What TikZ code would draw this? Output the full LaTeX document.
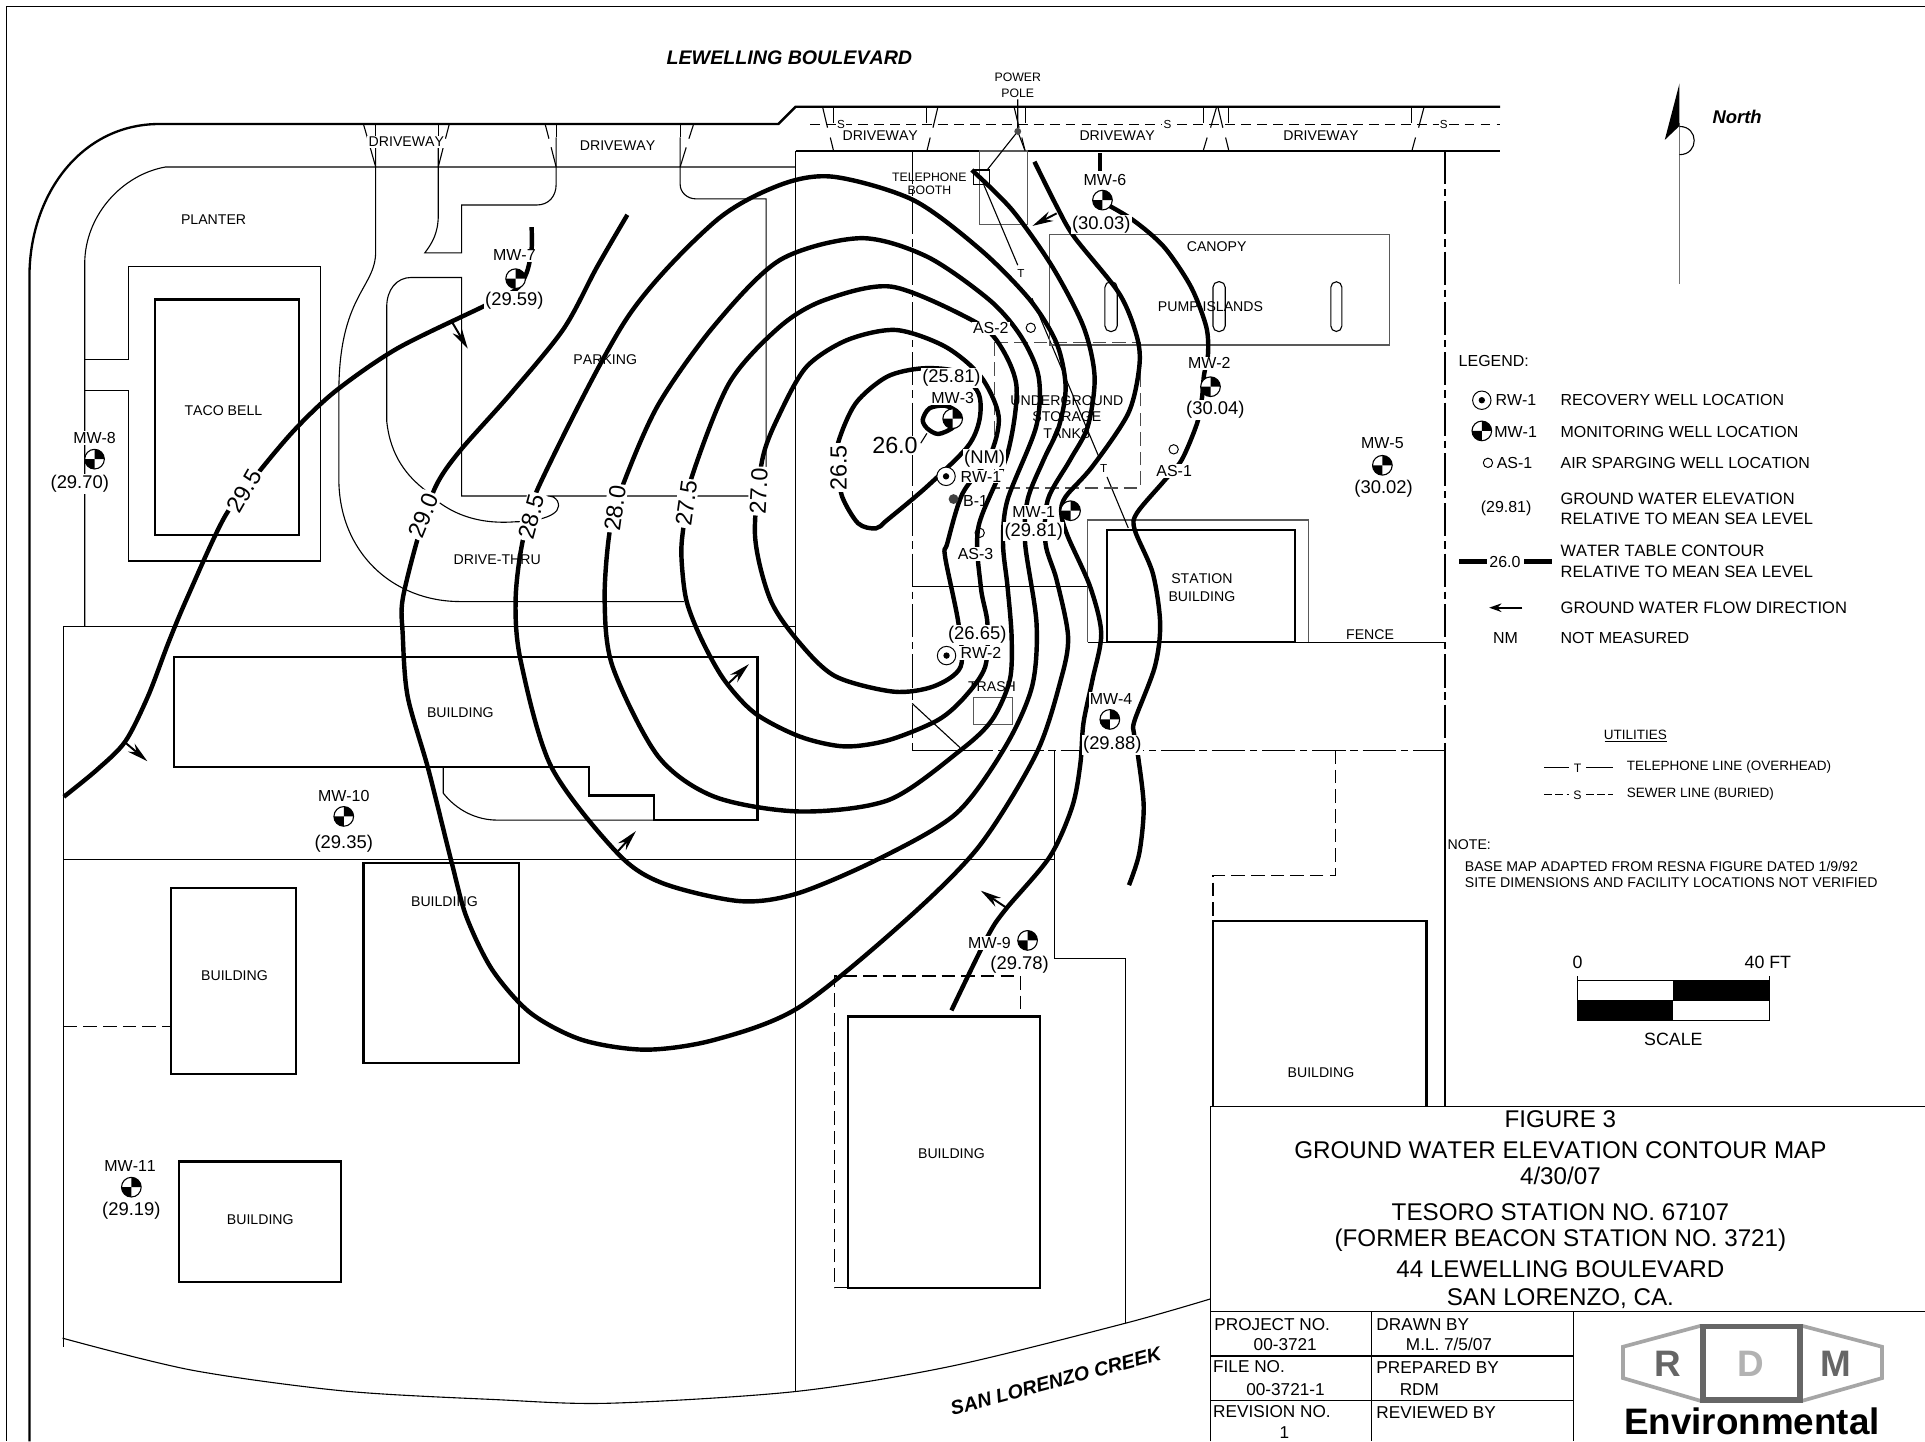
\documentclass[tikz,border=0pt]{standalone}
\usepackage{fontspec}
\setmainfont[Kerning = Off]{Liberation Sans}
\usetikzlibrary{arrows.meta}
\tikzset{
	thinline/.style = {black, line width = 0.9pt},
	greyline/.style = {black!65, line width = 1pt},
	bldg/.style = {black, line width = 1.8pt},
	contour/.style = {black, line width = 3.6pt},
	fenceline/.style = {black, line width = 0.9pt, dash pattern = on 27pt off 4pt on 6pt off 4pt},
	dashline/.style = {black, line width = 0.9pt, dash pattern = on 11pt off 5pt},
	flow/.style = {black, line width = 1.6pt, -{Stealth[length = 17pt, width = 8.5pt]}},
	plainlbl/.style = {inner sep = 0pt, align = center, yshift = -0.7pt, font = \fontsize{11.5}{13.5}\selectfont},
	welllbl/.style = {inner sep = 1pt, fill = white, font = \fontsize{13}{15}\selectfont},
	elevlbl/.style = {inner sep = 1pt, fill = white, yshift = -1pt, font = \fontsize{15}{17}\selectfont},
	contlbl/.style = {inner sep = 1.5pt, fill = white, font = \fontsize{19}{21}\selectfont},
	keylbl/.style = {inner sep = 0pt, anchor = west, align = left, font = \fontsize{13}{17}\selectfont},
	widekey/.style = {keylbl, font = \fontsize{13.4}{17}\selectfont},
	titlelbl/.style = {inner sep = 0pt, font = \fontsize{19.7}{22}\selectfont},
	cornerlbl/.style = {inner sep = 0pt, anchor = west, font = \fontsize{14}{16}\selectfont},
	mwell/.pic = {
		\fill[white] (0pt, 0pt) circle (8pt);
		\fill[black] (0pt, 0pt)--(8pt, 0pt) arc[start angle = 0, end angle = 90, radius = 8pt]--cycle;
		\fill[black] (0pt, 0pt)--(-8pt, 0pt) arc[start angle = 180, end angle = 270, radius = 8pt]--cycle;
		\draw[black, line width = 0.9pt] (0pt, 0pt) circle (8pt);
	},
	rwell/.pic = {
		\fill[white] (0pt, 0pt) circle (7.5pt);
		\draw[black, line width = 0.8pt] (0pt, 0pt) circle (7.5pt);
		\fill[black] (0pt, 0pt) circle (2.6pt);
	},
	aswell/.pic = {
		\draw[black, line width = 0.8pt] (0pt, 0pt) circle (3.8pt);
	}
}

\begin{document}
\begin{tikzpicture}[x = 1pt, y = -1pt]
	\useasboundingbox (0, 0) rectangle (1568, 1174);
	% frame and road
	\draw[thinline] (1568, 5)--(5, 5)--(5, 1174);
	\draw[black, line width = 1.9pt] (24, 1174)--(24, 225) .. controls (24, 160) and (65, 101) .. (130, 101)--(634, 101)--(648, 87)--(1222, 87);
	\draw[black, line width = 0.8pt, dash pattern = on 8pt off 5pt] (660, 101)--(1222, 101);
	\draw[thinline] (648, 123)--(1222, 123);
	\draw[thinline] (69, 510)--(69, 215) .. controls (69, 175) and (100, 142) .. (135, 136)--(648, 136);
	% driveways
	\foreach \xa/\xb in {296/306, 366/357, 444/453, 565/554} {
		\draw[thinline] (\xa, 101)--({\xa + 0.35 * (\xb - \xa)}, 113);
		\draw[thinline] ({\xa + 0.55 * (\xb - \xa)}, 120)--(\xb, 136);
		\draw[thinline] (\xb, 101)--(\xb, 112);
	}
	\foreach \xa/\xb in {670/679, 764/755, 826/835, 991/980, 992/1001, 1160/1150} {
		\draw[thinline] (\xa, 87)--({\xa + 0.45 * (\xb - \xa)}, 104);
		\draw[thinline] ({\xa + 0.7 * (\xb - \xa)}, 112)--(\xb, 123);
		\draw[thinline] (\xb, 87)--(\xb, 100);
	}
	% parking curbs
	\draw[thinline] (306, 112)--(306, 205) .. controls (306, 235) and (276, 240) .. (276, 320)--(276, 390) .. controls (276, 450) and (320, 490) .. (375, 490)--(557, 490);
	\draw[thinline] (357, 112)--(357, 175) .. controls (357, 190) and (352, 198) .. (346, 206)--(376, 206)--(376, 167)--(437, 167) .. controls (447, 167) and (453, 160) .. (453, 150)--(453, 112);
	\draw[thinline] (554, 112)--(554, 150) .. controls (554, 157) and (560, 162) .. (567, 162)--(624, 162)--(624, 404);
	\draw[thinline] (624, 404)--(376, 404)--(376, 226)--(335, 226) .. controls (323, 226) and (315, 236) .. (315, 250)--(315, 343) .. controls (318, 372) and (332, 388) .. (346, 399) .. controls (368, 422) and (395, 427) .. (420, 425) .. controls (437, 425) and (460, 420) .. (454, 408) .. controls (452, 405) and (450, 404) .. (445, 404);
	% taco bell
	\draw[thinline] (69, 293)--(105, 293)--(105, 217)--(261, 217)--(261, 457)--(105, 457)--(105, 318)--(69, 318);
	\draw[bldg] (126, 244) rectangle (243.5, 435.5);
	% blocks to the south
	\draw[thinline] (52, 1097)--(52, 510)--(648, 510);
	\draw[thinline] (52, 700)--(859, 700);
	\draw[thinline] (648, 123)--(648, 1133);
	\draw[thinline] (859, 611)--(859, 781)--(917, 781)--(917, 1078);
	\draw[thinline] plot[smooth] coordinates {(51, 1090) (156, 1116) (280, 1133) (403, 1140) (496, 1143) (647.5, 1133.5) (774, 1113) (916, 1078) (986, 1058)};
	\draw[bldg] (142, 535)--(617, 535)--(617, 668)--(533, 668)--(533, 648)--(480, 648)--(480, 624.5)--(142, 624.5)--cycle;
	\draw[thinline] (361, 625)--(361, 646) .. controls (372, 660) and (388, 668) .. (405, 668)--(533, 668);
	\draw[bldg] (139, 723) rectangle (241, 875);
	\draw[bldg] (296, 703) rectangle (423, 866);
	\draw[dashline] (52, 836)--(139, 836);
	\draw[bldg] (146, 946) rectangle (278, 1044);
	\draw[bldg] (691, 828) rectangle (847, 1049);
	\draw[dashline] (691, 1049)--(680, 1049)--(680, 795)--(831, 795)--(831, 828);
	\draw[bldg] (988, 901)--(988, 750)--(1162, 750)--(1162, 901);
	\draw[dashline] (1088, 611)--(1088, 713)--(988, 713)--(988, 750);
	% station site
	\draw[fenceline] (743, 123)--(743, 611);
	\draw[fenceline] (1177, 123)--(1177, 611);
	\draw[fenceline] (782, 611)--(1177, 611);
	\draw[thinline] (743, 611)--(782, 611);
	\draw[thinline] (1177, 611)--(1177, 901);
	\draw[thinline] (743, 478)--(886, 478);
	\draw[thinline] (743, 573)--(782, 609);
	\draw[greyline] (886, 523)--(886, 423.5)--(1066, 423.5)--(1066, 523);
	\draw[thinline] (886, 523)--(1177, 523);
	\draw[bldg] (902, 431.5) rectangle (1055, 523);
	\draw[greyline] (793, 568) rectangle (825, 590);
	\draw[greyline] (798, 123) rectangle (837, 183);
	\draw[thinline] (793, 138.5) rectangle (806, 150);
	\draw[thinline] (829, 81)--(829, 107)--(804, 138.5);
	\draw[thinline] (829, 107)--(835, 123);
	\fill[black!70] (829, 107) circle (2.8pt);
	\draw[thinline] (800.7, 149)--(829, 216);
	\draw[thinline] (840.6, 243)--(895, 372);
	\draw[thinline] (901.7, 388.5)--(919, 430);
	\node[plainlbl, font = \fontsize{9.5}{11}\selectfont] (tmark) at (831.6, 222) {T};
	\node[plainlbl, font = \fontsize{9.5}{11}\selectfont] (tmarktwo) at (899, 381) {T};
	\draw[greyline] (855, 190.7) rectangle (1132, 281);
	\draw[thinline, rounded corners = 4.5pt] (900, 229.5) rectangle (910, 270);
	\draw[thinline, rounded corners = 4.5pt] (988, 229.5) rectangle (998, 270);
	\draw[thinline, rounded corners = 4.5pt] (1084, 229.5) rectangle (1093, 270);
	\draw[black!70, line width = 0.9pt, dash pattern = on 11pt off 5pt] (810, 279) rectangle (929, 397.5);
	% labels under the contours
	\node[plainlbl] (plantertxt) at (174, 178) {PLANTER};
	\node[plainlbl] (tacotxt) at (182, 334) {TACO BELL};
	\node[plainlbl] (parkingtxt) at (493, 292) {PARKING};
	\node[plainlbl] (thrutxt) at (405, 455) {DRIVE-THRU};
	\node[plainlbl] (canopytxt) at (991, 200) {CANOPY};
	\node[plainlbl] (pumptxt) at (986, 249) {PUMP ISLANDS};
	\node[plainlbl, font = \fontsize{11.5}{13.2}\selectfont] (tankstxt) at (869, 339) {UNDERGROUND\\STORAGE\\TANKS};
	\node[plainlbl] (trashtxt) at (808, 559) {TRASH};
	\node[plainlbl] (bldgone) at (375, 580) {BUILDING};
	\node[plainlbl] (bldgtwo) at (362, 734) {BUILDING};
	\node[plainlbl] (bldgthree) at (191, 794) {BUILDING};
	\node[plainlbl] (bldgfour) at (212, 993) {BUILDING};
	\node[plainlbl] (bldgfive) at (775, 939) {BUILDING};
	\node[plainlbl] (bldgsix) at (1076, 873) {BUILDING};
	\node[plainlbl, font = \fontsize{11.5}{14}\selectfont] (stationtxt) at (979, 478) {STATION\\BUILDING};
	\node[plainlbl] (fencetxt) at (1116, 516) {FENCE};
	\node[plainlbl, font = \fontsize{10}{13}\selectfont] (poletxt) at (829, 69) {POWER\\POLE};
	\node[plainlbl, font = \fontsize{10}{11}\selectfont] (boothtxt) at (757, 149) {TELEPHONE\\BOOTH};
	\foreach \x/\y in {331/115, 503/118, 717/110, 910/110, 1076/110} {
		\node[plainlbl, fill = white, inner sep = 1pt] at (\x, \y) {DRIVEWAY};
	}
	\foreach \x in {685, 951, 1176} {
		\node[plainlbl, fill = white, inner sep = 1pt, font = \fontsize{9.5}{11}\selectfont] at (\x, 101) {S};
	}
	% contours
	\draw[contour] plot[smooth] coordinates {(52, 649) (79, 627) (102, 604) (120.6, 567) (137, 524) (152, 488) (183, 421) (212, 383) (241, 349) (274, 318) (324, 283.6) (395, 249) (420, 236) (429, 222) (433, 203) (433, 185)};
	\draw[contour] plot[smooth] coordinates {(511, 175) (486, 218) (459, 268) (415.7, 321) (374, 368) (355, 396) (341, 436) (328, 488) (328, 516) (332, 567) (349, 627) (368, 703) (380, 747) (401, 790) (432, 825) (474, 847) (526, 855) (582, 847) (650, 821) (735, 752) (797, 690) (844, 614) (864, 554) (870, 518.6) (860.7, 472.5) (851.6, 442.6) (853.5, 407) (871.6, 374.7) (886, 347.5) (891.6, 307) (882.5, 266) (857, 217) (824.4, 171) (791.6, 138.5)};
	\draw[contour] plot[smooth cycle] coordinates {(440.5, 392.7) (426, 439.5) (420, 488) (424, 537.6) (449, 624.5) (503, 695) (540, 719.5) (602.6, 734) (650, 727.6) (717, 699) (779, 662.5) (819, 608) (840.7, 559) (844.3, 507.7) (835, 442.6) (837, 407) (850, 374.7) (862.5, 347.5) (868, 315) (860.7, 279.7) (839, 244.4) (799, 203.7) (744, 163) (679, 144) (635.3, 150.7) (582, 180.8) (511, 258.7)};
	\draw[contour] plot[smooth cycle] coordinates {(635.3, 211.8) (700.8, 194) (755, 209) (806, 244.4) (831.6, 274) (846, 306.8) (844, 347.5) (820.7, 407) (817, 442.6) (820.7, 478) (824, 518.6) (822.5, 554) (808, 586.5) (782.5, 611) (724, 651.6) (651.6, 661) (582, 649) (536, 616) (499, 543) (492.5, 488.7) (496.6, 433) (507, 396) (536, 330) (582, 265)};
	\draw[contour] plot[smooth cycle] coordinates {(635.3, 266) (671.7, 244.4) (726.2, 233.5) (791.6, 260.7) (813.5, 279.7) (828, 315) (820.7, 369.3) (797, 429) (798.9, 478) (804.3, 507.7) (802.5, 543) (786, 567.5) (764, 586.5) (724, 602.8) (688, 608) (651.6, 600) (615, 581) (590, 554) (571.5, 521) (559, 488.7) (555, 452) (557, 427) (563, 390) (594, 312)};
	\draw[contour] plot[smooth cycle] coordinates {(635.3, 336.7) (657, 298.7) (690, 277) (729.8, 268.8) (770, 282.4) (799, 306.8) (813.5, 339.4) (806, 372) (784, 402) (771.6, 442.6) (769.8, 453.4) (780.7, 507.7) (782.5, 543) (760.7, 559) (728, 563.4) (680.7, 551) (651.6, 524) (627.6, 488.7) (615, 436.4) (621, 374)};
	\draw[contour] plot[smooth cycle] coordinates {(682.6, 361) (697, 328.5) (722.6, 306.8) (751.6, 300) (780, 303) (797, 320.4) (797.8, 342) (788, 364) (755, 396.4) (722.6, 423.6) (713.5, 430.4) (699, 426.3) (686, 404.6) (682.6, 381.5)};
	\draw[contour] plot[smooth cycle] coordinates {(751.6, 342) (757, 332.6) (770, 330.5) (780.7, 336.7) (777, 347.6) (764.4, 353.5) (755.3, 349)};
	\draw[contour] plot[smooth] coordinates {(842.6, 131.7) (860.7, 168) (875, 193) (911.6, 239) (926, 274) (928, 298.7) (919, 336.7) (889.8, 380) (868, 404.6) (864.4, 418) (869.8, 437) (888, 478) (897, 516) (889.8, 554) (882.5, 589) (880, 622) (873.4, 657) (855, 698) (818.9, 741) (804.3, 763) (775, 823)};
	\draw[contour] plot[smooth] coordinates {(897, 164) (922.5, 179) (948, 201) (970, 233.5) (982.5, 266) (984, 288) (980.7, 305.5) (979, 324.5) (975, 345) (962.5, 374.7) (948, 392) (926, 418) (924.3, 431.7) (939, 467) (945, 508) (940.7, 543) (924.3, 586.5) (923.6, 597) (927, 616) (931.6, 657) (928, 695) (919.6, 721)};
	\draw[contour] (896, 125)--(896, 139);
	\draw[thinline] (750, 361)--(755, 353);
	% flow arrows
	\draw[flow] (368, 262)--(381, 284);
	\draw[flow] (101, 604)--(120, 620);
	\draw[flow] (592, 558)--(610, 541);
	\draw[flow] (503, 693.7)--(518, 677);
	\draw[flow] (820.7, 740)--(798.9, 725.5);
	\draw[flow] (860.7, 173.8)--(841, 184);
	% contour labels
	\node[contlbl, rotate = 60] (labela) at (199, 400) {29.5};
	\node[contlbl, rotate = 68] (labelb) at (345, 420) {29.0};
	\node[contlbl, rotate = 75] (labelc) at (433, 421) {28.5};
	\node[contlbl, rotate = 82] (labeld) at (501, 414) {28.0};
	\node[contlbl, rotate = 82] (labele) at (559, 410) {27.5};
	\node[contlbl, rotate = 87] (labelf) at (618, 400) {27.0};
	\node[contlbl, rotate = 90] (labelg) at (683, 381) {26.5};
	\node[contlbl, inner sep = 0.5pt] (labelh) at (729, 363) {26.0};
	% wells
	\foreach \x/\y in {872/416, 986/315, 776/341, 904/586, 1126/379, 898/163, 420/227, 77/374, 837/766, 280/665, 107/967, 1207/351} {
		\pic at (\x, \y) {mwell};
	}
	\foreach \x/\y in {770.6/388, 771/534, 1207/326} {
		\pic at (\x, \y) {rwell};
	}
	\foreach \x/\y in {839.6/267, 956/366, 798/434, 1212/377} {
		\pic at (\x, \y) {aswell};
	}
	\fill[black!75] (776.7, 406.5) circle (4pt);
	\node[welllbl] (mwone) at (842, 417) {MW-1};
	\node[elevlbl] (elone) at (842, 432) {(29.81)};
	\node[welllbl] (mwtwo) at (985, 296) {MW-2};
	\node[elevlbl] (eltwo) at (990, 333) {(30.04)};
	\node[welllbl] (mwthree) at (776, 324) {MW-3};
	\node[elevlbl] (elthree) at (775, 307) {(25.81)};
	\node[welllbl] (mwfour) at (905, 569.5) {MW-4};
	\node[elevlbl] (elfour) at (906, 606) {(29.88)};
	\node[welllbl] (mwfive) at (1126, 361) {MW-5};
	\node[elevlbl] (elfive) at (1127, 397) {(30.02)};
	\node[welllbl] (mwsix) at (900, 147) {MW-6};
	\node[elevlbl] (elsix) at (897, 182) {(30.03)};
	\node[welllbl] (mwseven) at (419, 208) {MW-7};
	\node[elevlbl] (elseven) at (419, 244) {(29.59)};
	\node[welllbl] (mweight) at (77, 357) {MW-8};
	\node[elevlbl] (eleight) at (65, 393) {(29.70)};
	\node[welllbl] (mwnine) at (806, 768) {MW-9};
	\node[elevlbl] (elnine) at (830.5, 785) {(29.78)};
	\node[welllbl] (mwten) at (280, 648) {MW-10};
	\node[elevlbl] (elten) at (280, 686) {(29.35)};
	\node[welllbl] (mweleven) at (106, 950) {MW-11};
	\node[elevlbl] (eleleven) at (107, 985) {(29.19)};
	\node[elevlbl] (nmtxt) at (802, 373) {(NM)};
	\node[elevlbl] (elrwtwo) at (796, 516) {(26.65)};
	\node[welllbl] (rwone) at (799, 388.3) {RW-1};
	\node[welllbl] (rwtwo) at (799, 532) {RW-2};
	\node[welllbl, fill = none] (bone) at (794.6, 408) {B-1};
	\node[welllbl] (astwo) at (807, 267.5) {AS-2};
	\node[welllbl] (asone) at (956.4, 383.4) {AS-1};
	\node[welllbl] (asthree) at (794.6, 451) {AS-3};
	% street names
	\node[inner sep = 0pt, font = \fontsize{16}{18}\selectfont\bfseries\itshape] (streettxt) at (643, 47) {LEWELLING BOULEVARD};
	\node[inner sep = 0pt, rotate = 15, font = \fontsize{16}{18}\selectfont\bfseries\itshape] (creektxt) at (860, 1125) {SAN LORENZO CREEK};
	% north arrow
	\draw[black!55, line width = 1.2pt] (1368, 100)--(1368, 231);
	\fill[black] (1368, 68)--(1356, 114)--(1368, 102.6)--cycle;
	\draw[thinline] (1368, 103) .. controls (1384, 103) and (1384, 126) .. (1368, 126);
	\node[inner sep = 0pt, font = \fontsize{15}{17}\selectfont\bfseries\itshape] (northtxt) at (1415, 95) {North};
	% legend
	\node[keylbl] (legendtxt) at (1188, 294) {LEGEND:};
	\node[keylbl] (keyrw) at (1218, 326) {RW-1};
	\node[keylbl] (keymw) at (1217, 351.5) {MW-1};
	\node[keylbl] (keyas) at (1219, 377) {AS-1};
	\node[keylbl] (keyel) at (1206, 414) {(29.81)};
	\node[keylbl, fill = white] (keycont) at (1213, 457.5) {26.0};
	\node[keylbl] (keynm) at (1216, 520) {NM};
	\draw[contour] (1188.5, 457.5)--(1211, 457.5);
	\draw[contour] (1241.5, 457.5)--(1264, 457.5);
	\draw[flow, -{Stealth[length = 10pt, width = 7pt]}] (1240, 495)--(1213, 495);
	\node[keylbl] (valrw) at (1271, 326) {RECOVERY WELL LOCATION};
	\node[keylbl] (valmw) at (1271, 351.5) {MONITORING WELL LOCATION};
	\node[keylbl] (valas) at (1271, 377) {AIR SPARGING WELL LOCATION};
	\node[widekey] (valel) at (1271, 414.5) {GROUND WATER ELEVATION\\RELATIVE TO MEAN SEA LEVEL};
	\node[widekey] (valcont) at (1271, 457.5) {WATER TABLE CONTOUR\\RELATIVE TO MEAN SEA LEVEL};
	\node[widekey, font = \fontsize{13.5}{17}\selectfont] (valflow) at (1271, 495) {GROUND WATER FLOW DIRECTION};
	\node[keylbl] (valnm) at (1271, 520) {NOT MEASURED};
	% utilities and note
	\node[plainlbl, font = \fontsize{11}{13}\selectfont] (utiltxt) at (1332, 598) {UTILITIES};
	\draw[thinline] (1307, 604)--(1358, 604);
	\draw[thinline] (1258, 625)--(1278, 625);
	\draw[thinline] (1292, 625)--(1314, 625);
	\node[plainlbl, font = \fontsize{10}{12}\selectfont] (utilt) at (1285, 625) {T};
	\draw[black, line width = 0.8pt, dash pattern = on 6pt off 3pt] (1258, 647)--(1278, 647);
	\draw[black, line width = 0.8pt, dash pattern = on 6pt off 3pt] (1292, 647)--(1314, 647);
	\node[plainlbl, font = \fontsize{10}{12}\selectfont] (utils) at (1285, 647) {S};
	\node[keylbl, font = \fontsize{11}{13}\selectfont] (telline) at (1325, 625) {TELEPHONE LINE (OVERHEAD)};
	\node[keylbl, font = \fontsize{11}{13}\selectfont] (sewline) at (1325, 647) {SEWER LINE (BURIED)};
	\node[keylbl, font = \fontsize{11.5}{13}\selectfont] (notetxt) at (1179, 688) {NOTE:};
	\node[keylbl, font = \fontsize{11.5}{13.2}\selectfont] (notebody) at (1193, 712.5) {BASE MAP ADAPTED FROM RESNA FIGURE DATED 1/9/92\\SITE DIMENSIONS AND FACILITY LOCATIONS NOT VERIFIED};
	% scale
	\draw[thinline] (1285, 799) rectangle (1441, 831);
	\draw[thinline] (1285, 815)--(1441, 815);
	\draw[thinline] (1285, 795)--(1285, 799);
	\draw[thinline] (1441, 795)--(1441, 799);
	\fill[black] (1363, 799) rectangle (1441, 815);
	\fill[black] (1285, 815) rectangle (1363, 831);
	\node[plainlbl, font = \fontsize{14.5}{16}\selectfont] (scalezero) at (1285, 783) {0};
	\node[plainlbl, font = \fontsize{14.5}{16}\selectfont] (scaleforty) at (1440, 783) {40 FT};
	\node[plainlbl, font = \fontsize{14.5}{16}\selectfont] (scaletxt) at (1363, 846) {SCALE};
	% title block
	\fill[white] (986, 901) rectangle (1568, 1174);
	\draw[thinline] (986, 1174)--(986, 901)--(1568, 901);
	\draw[thinline] (986, 1068)--(1568, 1068);
	\draw[thinline] (1117, 1068)--(1117, 1174);
	\draw[thinline] (1281.5, 1068)--(1281.5, 1174);
	\draw[thinline] (986, 1104.5)--(1281.5, 1104.5);
	\draw[thinline] (986, 1141)--(1281.5, 1141);
	\node[titlelbl] (figtxt) at (1271, 912) {FIGURE 3};
	\node[titlelbl] (maptxt) at (1271, 937) {GROUND WATER ELEVATION CONTOUR MAP};
	\node[titlelbl] (datetxt) at (1271, 958) {4/30/07};
	\node[titlelbl] (statxt) at (1271, 987) {TESORO STATION NO. 67107};
	\node[titlelbl] (formertxt) at (1271, 1010) {(FORMER BEACON STATION NO. 3721)};
	\node[titlelbl] (addrtxt) at (1271, 1034) {44 LEWELLING BOULEVARD};
	\node[titlelbl] (citytxt) at (1271, 1058) {SAN LORENZO, CA.};
	\node[cornerlbl] (projtxt) at (989, 1079) {PROJECT NO.};
	\node[cornerlbl] (projval) at (1021, 1095) {00-3721};
	\node[cornerlbl] (filetxt) at (988, 1113) {FILE NO.};
	\node[cornerlbl] (fileval) at (1015, 1132) {00-3721-1};
	\node[cornerlbl] (revtxt) at (988, 1150) {REVISION NO.};
	\node[cornerlbl] (revval) at (1042, 1167) {1};
	\node[cornerlbl] (drawntxt) at (1121, 1079) {DRAWN BY};
	\node[cornerlbl] (drawnval) at (1145, 1095) {M.L. 7/5/07};
	\node[cornerlbl] (preptxt) at (1121, 1114) {PREPARED BY};
	\node[cornerlbl] (prepval) at (1140, 1132) {RDM};
	\node[cornerlbl] (revwtxt) at (1121, 1151) {REVIEWED BY};
	% logo
	\draw[black!35, line width = 3pt] (1385, 1080)--(1322, 1097)--(1322, 1122.5)--(1385, 1141);
	\draw[black!35, line width = 3pt] (1468, 1080)--(1533, 1097)--(1533, 1122.5)--(1468, 1141);
	\draw[black!60, line width = 4.5pt] (1387, 1080.5) rectangle (1466, 1140.5);
	\node[inner sep = 0pt, text = black!60, font = \fontsize{30}{32}\selectfont\bfseries] (logor) at (1358.5, 1110.5) {R};
	\node[inner sep = 0pt, text = black!30, font = \fontsize{30}{32}\selectfont\bfseries] (logod) at (1426, 1110.5) {D};
	\node[inner sep = 0pt, text = black!60, font = \fontsize{30}{32}\selectfont\bfseries] (logom) at (1495, 1110.5) {M};
	\node[inner sep = 0pt, font = \fontsize{30}{32}\selectfont\bfseries] (logotxt) at (1427, 1158) {Environmental};
\end{tikzpicture}
\end{document}
